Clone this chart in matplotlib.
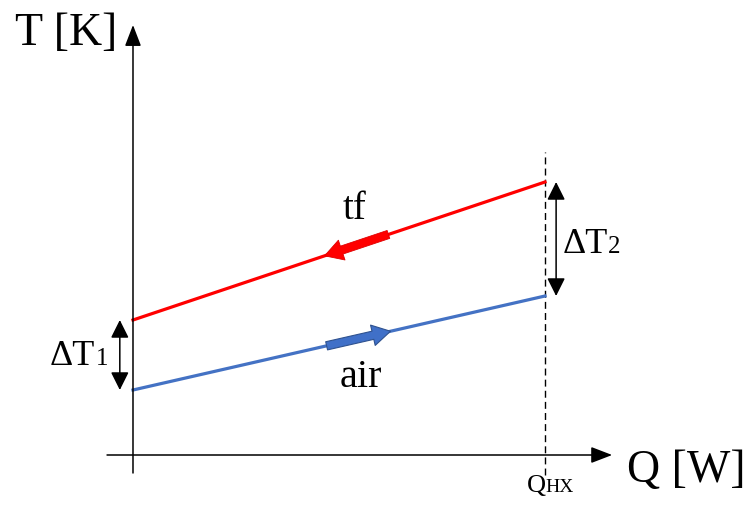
import matplotlib.pyplot as plt

plt.rcParams['font.family'] = ['Liberation Serif', 'DejaVu Serif']

# heat exchanger T-Q diagram (counterflow), arbitrary units
q = [0.0, 1.0]          # Q / Q_HX
t_tf = [13.5, 27.3]     # thermal fluid
t_air = [6.5, 15.9]     # air
q_hx = 1.0

fig = plt.figure(figsize=(7.5, 5.09), dpi=100)
ax = fig.add_axes([0, 0, 1, 1])
ax.set_xlim(-0.3228, 1.4976)
ax.set_ylim(-5.4, 45.5)
ax.axis('off')

red = '#ff0000'
blue = '#4472c4'

# axes with arrow heads
axis_arrow = dict(arrowstyle='-|>,head_length=1.3,head_width=0.5',
                  color='black', lw=1.1, shrinkA=0, shrinkB=0)
ax.annotate('', xy=(1.163, 0), xytext=(-0.063, 0), arrowprops=axis_arrow)
ax.annotate('', xy=(0, 43.0), xytext=(0, -1.8), arrowprops=axis_arrow)

# Q_HX marker
ax.plot([q_hx, q_hx], [-2.0, 30.3], color='black', lw=1, ls=(0, (5, 3)))

ax.plot(q, t_tf, color=red, lw=2.3)
ax.plot(q, t_air, color=blue, lw=2.3)

# flow direction arrows along each line
def along(tv, f):
    return q[0] + f * (q[1] - q[0]), tv[0] + f * (tv[1] - tv[0])

flow = 'simple,head_length=1.3,head_width=1.5,tail_width=0.6'
ax.annotate('', xy=along(t_tf, 0.465), xytext=along(t_tf, 0.62),
            arrowprops=dict(arrowstyle=flow, fc=red, ec='#e00000', lw=0.6,
                            shrinkA=0, shrinkB=0))
ax.annotate('', xy=along(t_air, 0.625), xytext=along(t_air, 0.47),
            arrowprops=dict(arrowstyle=flow, fc='#4070c8', ec='#2f528f', lw=0.8,
                            shrinkA=0, shrinkB=0))

# temperature differences
dbl = dict(arrowstyle='<|-|>,head_length=1.1,head_width=0.55', color='black',
           lw=1.1, shrinkA=0, shrinkB=0)
ax.annotate('', xy=(1.027, t_tf[1]), xytext=(1.027, t_air[1]), arrowprops=dbl)
ax.annotate('', xy=(-0.032, t_tf[0]), xytext=(-0.032, t_air[0]), arrowprops=dbl)

ax.text(-0.286, 41.0, 'T [K]', fontsize=33, va='baseline', ha='left')
ax.text(1.199, -2.7, 'Q [W]', fontsize=33, va='baseline', ha='left')
ax.text(0.510, 23.6, 'tf', fontsize=28, ha='left', va='baseline')
ax.text(0.502, 6.8, 'air', fontsize=29, ha='left', va='baseline')

ax.text(1.044, 20.2, 'ΔT', fontsize=26, ha='left', va='baseline')
ax.text(1.153, 20.2, '2', fontsize=18, ha='left', va='baseline')
ax.text(-0.202, 9.0, 'ΔT', fontsize=26, ha='left', va='baseline')
ax.text(-0.090, 9.0, '1', fontsize=18, ha='left', va='baseline')

ax.text(0.956, -3.7, 'Q', fontsize=19, ha='left', va='baseline')
ax.text(1.000, -3.7, 'HX', fontsize=14, ha='left', va='baseline')

plt.savefig('out.png', dpi=100)
